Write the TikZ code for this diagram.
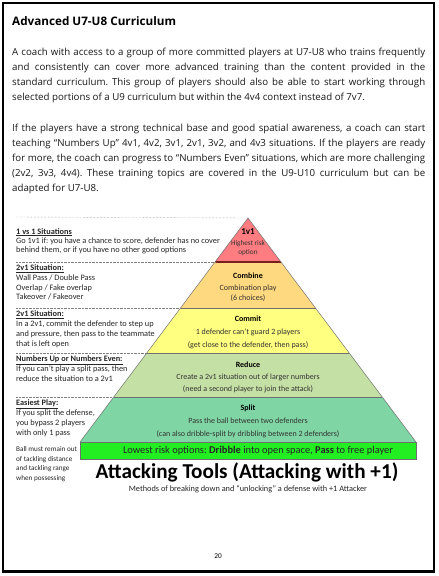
\documentclass[tikz,border=0pt]{standalone}
\usepackage{fontspec}
\setmainfont{Carlito}
\newfontfamily\bodyfont{Open Sans}
\usetikzlibrary{positioning}
\definecolor{riskred}{HTML}{FF7C80}
\definecolor{riskline}{HTML}{7A1F1F}
\definecolor{combineorange}{HTML}{FFD97F}
\definecolor{commityellow}{HTML}{FFFF80}
\definecolor{reducegreen}{HTML}{C5E0A5}
\definecolor{splitgreen}{HTML}{7FD5A3}
\definecolor{basegreen}{HTML}{22EE22}
\definecolor{edgegrey}{HTML}{707070}
\newcommand\fullline[1]{\makebox[413pt][s]{#1}}
\frenchspacing

\begin{document}
\begin{tikzpicture}[x=1pt, y=-1pt,
  bodyline/.style={anchor=base west, inner sep=0pt, text=black!90, font=\bodyfont\fontsize{9.7}{15}\selectfont},
  sidenote/.style={anchor=base west, inner sep=0pt, align=left, text=black!85, font=\fontsize{8.3}{10}\selectfont},
  layertext/.style={anchor=base, inner sep=0pt, align=center, text=black!80, font=\fontsize{8}{12.5}\selectfont},
  guide/.style={draw=gray, densely dotted, line width=0.4pt},
  sep/.style={draw=edgegrey, line width=0.5pt}]
\useasboundingbox (0,0) rectangle (439,576);
\fill[white] (0,0) rectangle (439,576);
\draw[line width=1.2pt] (3,3) rectangle (434,571);
\draw[line width=2.5pt] (434,2.4) -- (434,571.5) -- (2.4,571.5);

% heading and text
\node[anchor=base west, inner sep=0pt, font=\bodyfont\bfseries\fontsize{11.7}{13}\selectfont] (title) at (12,25) {Advanced U7-U8 Curriculum};
\foreach \txt [count=\i] in {
  {\fullline{A coach with access to a group of more committed players at U7-U8 who trains frequently}},
  {\fullline{and consistently can cover more advanced training than the content provided in the}},
  {\fullline{standard curriculum. This group of players should also be able to start working through}},
  {selected portions of a U9 curriculum but within the 4v4 context instead of 7v7.}}
  \node[bodyline] (pa\i) at (12,{40+15*\i}) {\txt};
\foreach \txt [count=\i] in {
  {\fullline{If the players have a strong technical base and good spatial awareness, a coach can start}},
  {\fullline{teaching “Numbers Up” 4v1, 4v2, 3v1, 2v1, 3v2, and 4v3 situations. If the players are ready}},
  {\fullline{for more, the coach can progress to “Numbers Even” situations, which are more challenging}},
  {\fullline{(2v2, 3v3, 4v4). These training topics are covered in the U9-U10 curriculum but can be}},
  {adapted for U7-U8.}}
  \node[bodyline] (pb\i) at (12,{116+15*\i}) {\txt};

% pyramid
\coordinate (apex) at (248,218);
\foreach \n/\y in {1/262,2/308,3/353,4/397,5/442} {
  \coordinate (l\n) at ({248-0.75*(\y-218)},\y);
  \coordinate (r\n) at ({248+0.75*(\y-218)},\y);
}
\fill[riskred] (apex) -- (r1) -- (l1) -- cycle;
\fill[combineorange] (l1) -- (r1) -- (r2) -- (l2) -- cycle;
\fill[commityellow] (l2) -- (r2) -- (r3) -- (l3) -- cycle;
\fill[reducegreen] (l3) -- (r3) -- (r4) -- (l4) -- cycle;
\fill[splitgreen] (l4) -- (r4) -- (r5) -- (l5) -- cycle;
\foreach \n in {2,3,4} \draw[sep] (l\n) -- (r\n);
\draw[riskline, line width=1.3pt] (l1) -- (r1);
\draw[sep] (l5) -- (apex) -- (r5);
\node[draw=edgegrey, fill=basegreen, line width=0.5pt, minimum width=336pt, minimum height=17pt, inner sep=0pt] (base) at (248,450.5) {};
\node[inner sep=0pt, text=black!85, font=\fontsize{10.4}{12}\selectfont] (basetext) at ([xshift=10pt]base.center)
  {Lowest risk options: \textbf{Dribble} into open space, \textbf{Pass} to free player};

\node[layertext, font=\fontsize{7.2}{8.3}\selectfont] (risk) at (248,254)
  {{\fontsize{9}{9}\selectfont\textbf{\color{black}1v1}}\\[3pt] Highest risk\\ option};
\node[layertext, font=\fontsize{8}{10}\selectfont] (combine) at (248,300)
  {\textbf{\color{black}Combine}\\[2pt] Combination play\\ (6 choices)};
\node[layertext] (commit) at (248,347)
  {\textbf{\color{black}Commit}\\[0.5pt] 1 defender can’t guard 2 players\\ (get close to the defender, then pass)};
\node[layertext, font=\fontsize{8}{12}\selectfont] (reduce) at (248,391)
  {\textbf{\color{black}Reduce}\\ Create a 2v1 situation out of larger numbers\\ (need a second player to join the attack)};
\node[layertext, font=\fontsize{8}{13}\selectfont] (split) at (248,436)
  {\textbf{\color{black}Split}\\ Pass the ball between two defenders\\ (can also dribble-split by dribbling between 2 defenders)};

% side notes
\draw[guide] (16,217) -- (apex);
\foreach \n in {1,2,3,4} \draw[guide] (16,0 |- l\n) -- (l\n);
\node[sidenote, font=\fontsize{8.3}{9}\selectfont] (onevone) at (16,252)
  {\underline{\textbf{1 vs 1 Situations}}\\ Go 1v1 if: you have a chance to score, defender has no cover\\ behind them, or if you have no other good options};
\node[sidenote, font=\fontsize{8.3}{9.7}\selectfont] (twovone) at (16,299.7)
  {\underline{\textbf{2v1 Situation:}}\\ Wall Pass / Double Pass\\ Overlap / Fake overlap\\ Takeover / Fakeover};
\node[sidenote] (commitnote) at (16,346.7)
  {\underline{\textbf{2v1 Situation:}}\\ In a 2v1, commit the defender to step up\\ and pressure, then pass to the teammate\\ that is left open};
\node[sidenote] (numbers) at (16,381.7)
  {\underline{\textbf{Numbers Up or Numbers Even:}}\\ If you can’t play a split pass, then\\ reduce the situation to a 2v1};
\node[sidenote] (easiest) at (16,435.7)
  {\underline{\textbf{Easiest Play:}}\\ If you split the defense,\\ you bypass 2 players\\ with only 1 pass};
\node[sidenote, font=\fontsize{7.2}{9.7}\selectfont] (ballnote) at (16,480.5)
  {Ball must remain out\\ of tackling distance\\ and tackling range\\ when possessing};

% caption
\node[anchor=base, inner sep=0pt, font=\bfseries\fontsize{21.2}{24}\selectfont] (tools) at (247,478.5) {Attacking Tools (Attacking with +1)};
\node[anchor=base, inner sep=0pt, text=black!85, font=\fontsize{8.3}{10}\selectfont] (methods) at (248,491)
  {Methods of breaking down and “unlocking” a defense with +1 Attacker};
\node[anchor=base, inner sep=0pt, font=\fontsize{7.3}{8}\selectfont] (page) at (218,558.5) {20};
\end{tikzpicture}
\end{document}
